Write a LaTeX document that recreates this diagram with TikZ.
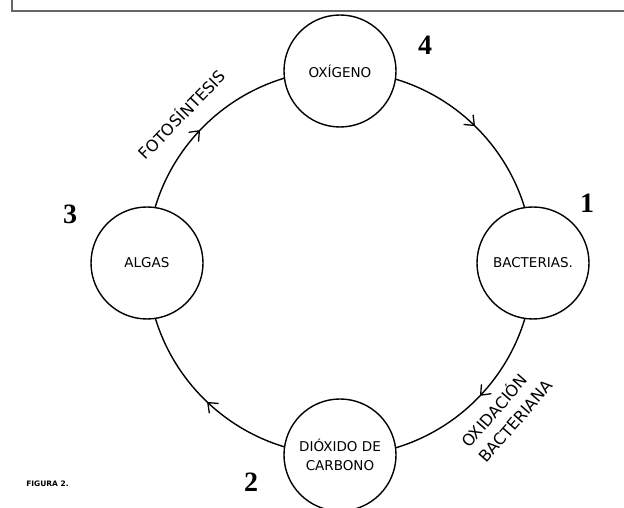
\documentclass[tikz,border=0pt]{standalone}
\usepackage{fontspec}
\setmainfont{DejaVu Sans}
\newfontfamily\numfont{Liberation Serif}
\usetikzlibrary{decorations.markings,backgrounds}
\begin{document}
\begin{tikzpicture}[x=1pt,y=1pt,
  stage/.style={circle,draw,line width=1.4pt,fill=white,minimum size=112pt,inner sep=0pt,align=center,font=\fontsize{13.5}{19}\selectfont},
  num/.style={font=\numfont\bfseries\fontsize{28}{28}\selectfont,inner sep=0pt},
  ring/.style={line width=1.4pt,postaction={decorate},decoration={markings,mark=at position #1 with {\draw[line width=1.3pt,line cap=round,line join=round] (-8,6.5) .. controls (-3,2.5) .. (0,0) .. controls (-3,-2.5) .. (-8,-6.5);}}},
  lab/.style={font=\fontsize{16}{23}\selectfont,inner sep=0pt},
  frame/.style={draw=black!60,line width=2.2pt}]
\useasboundingbox (0,0) rectangle (624,508);
\draw[frame] (12,508) -- (12,497) -- (624,497);

\node[stage] (oxi) at (340,437) {OXÍGENO};
\node[stage] (bac) at (533,245) {BACTERIAS.};
\node[stage] (dio) at (340,53) {DIÓXIDO DE\\CARBONO};
\node[stage] (alg) at (147,245) {ALGAS};

\begin{scope}[on background layer]
  \draw[ring=0.49] (oxi.center) arc[start angle=90,end angle=0,radius=193];
  \draw[ring=0.48] (bac.center) arc[start angle=0,end angle=-90,radius=193];
  \draw[ring=0.48] (dio.center) arc[start angle=270,end angle=180,radius=193];
  \draw[ring=0.48] (alg.center) arc[start angle=180,end angle=90,radius=193];
\end{scope}

\node[num] (n4) at (425,463) {4};
\node[num] (n1) at (587,305) {1};
\node[num] (n3) at (70,294) {3};
\node[num] (n2) at (251,26) {2};

\node[lab,rotate=46] (fot) at (181,394) {FOTOSÍNTESIS};
\node[lab,rotate=49,align=left] (oxb) at (506,95) {OXIDACIÓN\\BACTERIANA};

\node[font=\bfseries\fontsize{7.5}{9}\selectfont,inner sep=0pt] (fig) at (47.5,24) {FIGURA 2.};
\end{tikzpicture}
\end{document}
